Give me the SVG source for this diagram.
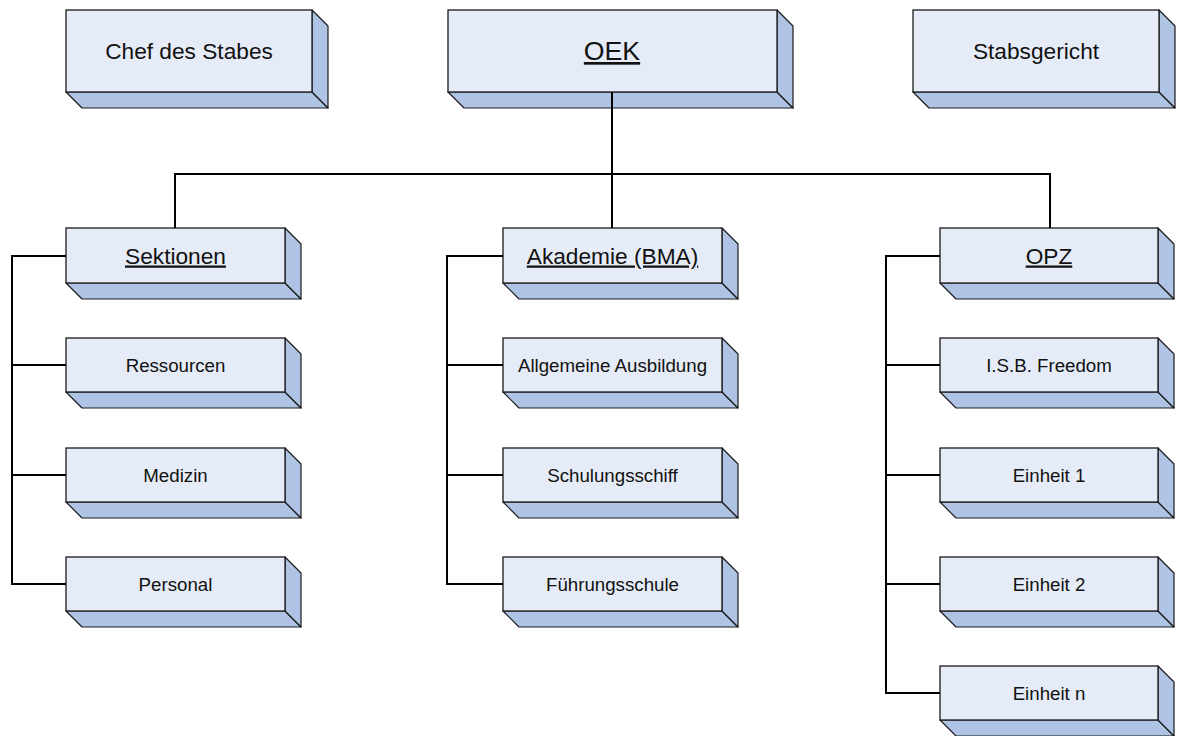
<svg xmlns="http://www.w3.org/2000/svg" width="1178" height="736" viewBox="0 0 1178 736">
<style>
.f{fill:#E6ECF7;stroke:#1a1a1a;stroke-width:1.3}
.d{fill:#AFC4E4;stroke:#1a1a1a;stroke-width:1.2;stroke-linejoin:round}
text{font-family:"Liberation Sans",Arial,sans-serif;fill:#111;text-anchor:middle}
.t1{font-size:22.7px}
.t0{font-size:26.7px}
.t2{font-size:18.7px}
.u{text-decoration:underline}
.c{fill:none;stroke:#000;stroke-width:2}
</style>
<rect width="1178" height="736" fill="#fff"/>
<g id="chef">
<polygon class="d" points="66,92 312,92 328,108 82,108"/>
<polygon class="d" points="312,10 328,26 328,108 312,92"/>
<rect class="f" x="66" y="10" width="246" height="82"/>
<text class="t1" x="189" y="59">Chef des Stabes</text>
</g>
<g id="oek">
<polygon class="d" points="448,92 777,92 793,108 464,108"/>
<polygon class="d" points="777,10 793,26 793,108 777,92"/>
<rect class="f" x="448" y="10" width="329" height="82"/>
<text class="t0 u" x="612" y="60">OEK</text>
</g>
<g id="stabsgericht">
<polygon class="d" points="913,92 1159,92 1175,108 929,108"/>
<polygon class="d" points="1159,10 1175,26 1175,108 1159,92"/>
<rect class="f" x="913" y="10" width="246" height="82"/>
<text class="t1" x="1036" y="59">Stabsgericht</text>
</g>
<g id="sektionen">
<polygon class="d" points="66,283 285,283 301,299 82,299"/>
<polygon class="d" points="285,228 301,244 301,299 285,283"/>
<rect class="f" x="66" y="228" width="219" height="55"/>
<text class="t1 u" x="175.5" y="263.5">Sektionen</text>
</g>
<g id="ressourcen">
<polygon class="d" points="66,392 285,392 301,408 82,408"/>
<polygon class="d" points="285,338 301,354 301,408 285,392"/>
<rect class="f" x="66" y="338" width="219" height="54"/>
<text class="t2" x="175.5" y="371.7">Ressourcen</text>
</g>
<g id="medizin">
<polygon class="d" points="66,502 285,502 301,518 82,518"/>
<polygon class="d" points="285,448 301,464 301,518 285,502"/>
<rect class="f" x="66" y="448" width="219" height="54"/>
<text class="t2" x="175.5" y="481.7">Medizin</text>
</g>
<g id="personal">
<polygon class="d" points="66,611 285,611 301,627 82,627"/>
<polygon class="d" points="285,557 301,573 301,627 285,611"/>
<rect class="f" x="66" y="557" width="219" height="54"/>
<text class="t2" x="175.5" y="590.7">Personal</text>
</g>
<g id="akademie">
<polygon class="d" points="503,283 722,283 738,299 519,299"/>
<polygon class="d" points="722,228 738,244 738,299 722,283"/>
<rect class="f" x="503" y="228" width="219" height="55"/>
<text class="t1 u" x="612.5" y="263.5">Akademie (BMA)</text>
</g>
<g id="allgemeine">
<polygon class="d" points="503,392 722,392 738,408 519,408"/>
<polygon class="d" points="722,338 738,354 738,408 722,392"/>
<rect class="f" x="503" y="338" width="219" height="54"/>
<text class="t2" x="612.5" y="371.7">Allgemeine Ausbildung</text>
</g>
<g id="schulungsschiff">
<polygon class="d" points="503,502 722,502 738,518 519,518"/>
<polygon class="d" points="722,448 738,464 738,518 722,502"/>
<rect class="f" x="503" y="448" width="219" height="54"/>
<text class="t2" x="612.5" y="481.7">Schulungsschiff</text>
</g>
<g id="fuehrungsschule">
<polygon class="d" points="503,611 722,611 738,627 519,627"/>
<polygon class="d" points="722,557 738,573 738,627 722,611"/>
<rect class="f" x="503" y="557" width="219" height="54"/>
<text class="t2" x="612.5" y="590.7">Führungsschule</text>
</g>
<g id="opz">
<polygon class="d" points="940,283 1158,283 1174,299 956,299"/>
<polygon class="d" points="1158,228 1174,244 1174,299 1158,283"/>
<rect class="f" x="940" y="228" width="218" height="55"/>
<text class="t1 u" x="1049" y="263.5">OPZ</text>
</g>
<g id="isb">
<polygon class="d" points="940,392 1158,392 1174,408 956,408"/>
<polygon class="d" points="1158,338 1174,354 1174,408 1158,392"/>
<rect class="f" x="940" y="338" width="218" height="54"/>
<text class="t2" x="1049" y="371.7">I.S.B. Freedom</text>
</g>
<g id="einheit1">
<polygon class="d" points="940,502 1158,502 1174,518 956,518"/>
<polygon class="d" points="1158,448 1174,464 1174,518 1158,502"/>
<rect class="f" x="940" y="448" width="218" height="54"/>
<text class="t2" x="1049" y="481.7">Einheit 1</text>
</g>
<g id="einheit2">
<polygon class="d" points="940,611 1158,611 1174,627 956,627"/>
<polygon class="d" points="1158,557 1174,573 1174,627 1158,611"/>
<rect class="f" x="940" y="557" width="218" height="54"/>
<text class="t2" x="1049" y="590.7">Einheit 2</text>
</g>
<g id="einheitn">
<polygon class="d" points="940,720 1158,720 1174,736 956,736"/>
<polygon class="d" points="1158,666 1174,682 1174,736 1158,720"/>
<rect class="f" x="940" y="666" width="218" height="54"/>
<text class="t2" x="1049" y="699.7">Einheit n</text>
</g>
<g id="connectors">
<path class="c" d="M612,92 V228 M175,228 V174 H1050 V228"/>
<path class="c" d="M66,256 H12 V584 H66 M12,365 H66 M12,475 H66"/>
<path class="c" d="M503,256 H447 V584 H503 M447,365 H503 M447,475 H503"/>
<path class="c" d="M940,256 H886 V693 H940 M886,365 H940 M886,475 H940 M886,584 H940"/>
</g>
</svg>
